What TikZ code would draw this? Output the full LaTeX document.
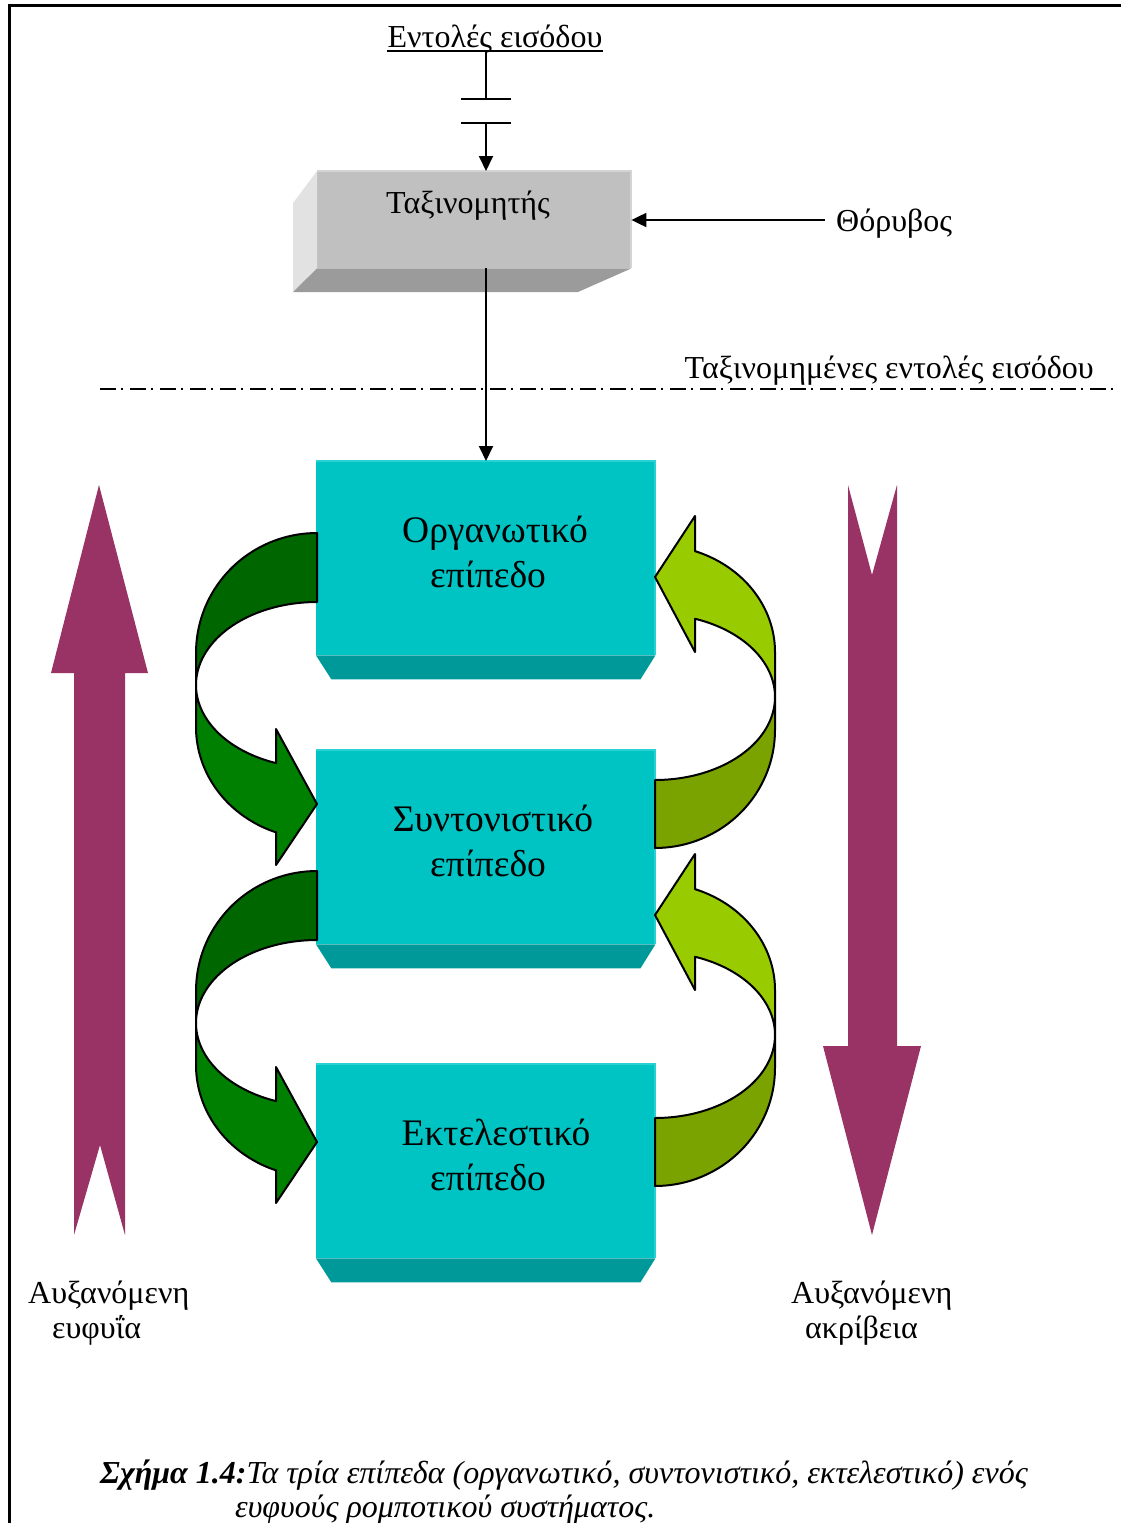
\documentclass[tikz,border=0pt]{standalone}
\usepackage{fontspec}
\setmainfont{Liberation Serif}
\usetikzlibrary{arrows.meta}

\definecolor{tealface}{RGB}{0,196,196}
\definecolor{tealhi}{RGB}{40,210,210}
\definecolor{tealbase}{RGB}{0,153,153}
\definecolor{grayface}{RGB}{192,192,192}
\definecolor{grayhi}{RGB}{212,212,212}
\definecolor{grayside}{RGB}{226,226,226}
\definecolor{graybase}{RGB}{155,155,155}
\definecolor{plum}{RGB}{153,51,102}
\definecolor{greenfront}{RGB}{0,128,0}
\definecolor{greenback}{RGB}{0,102,0}
\definecolor{limefront}{RGB}{153,204,0}
\definecolor{limeback}{RGB}{122,163,0}

\tikzset{
  wire/.style={line width=2pt},
  conn/.style={line width=2pt, -{Triangle[length=15pt,width=14pt]}},
  band/.style={draw=black, line width=2pt, line join=round},
  levelbox/.style={fill=tealface, minimum width=339pt, minimum height=194pt,
    inner sep=0pt, anchor=north west},
  sorterbox/.style={fill=grayface, minimum width=314pt, minimum height=97pt,
    inner sep=0pt, anchor=north west},
  lbl/.style={font=\fontsize{32}{38}\selectfont, inner sep=0pt},
  biglbl/.style={font=\fontsize{37.5}{45}\selectfont, inner sep=0pt, anchor=base},
  caption/.style={font=\fontsize{32}{37}\selectfont\itshape, inner sep=0pt, anchor=base west}
}

\begin{document}
\begin{tikzpicture}[x=1pt, y=-1pt]
\useasboundingbox (0,0) rectangle (1121,1523);

% page frame
\draw[line width=3pt] (9,1523) -- (9,5) -- (1121,5);

% input commands and the coupling symbol
\node[lbl, anchor=base] (cmd) at (495,47) {Εντολές εισόδου};
\draw[line width=1.8pt] ([yshift=-4pt]cmd.base west) -- ([yshift=-4pt]cmd.base east);
\coordinate (top) at (486,51);
\coordinate (p1) at (486,99);
\coordinate (p2) at (486,123);
\draw[wire] (top) -- (p1);
\draw[wire] (461,99) -- (511,99);
\draw[wire] (461,123) -- (511,123);

% sorter block with its side faces
\node[sorterbox] (sorter) at (317,171) {};
\fill[grayside] (sorter.north west) -- (293,203) -- (293,292) -- (sorter.south west) -- cycle;
\fill[graybase] (sorter.south west) -- (293,292) -- (578,292) -- (sorter.south east) -- cycle;
\draw[line width=2pt, grayhi] (sorter.south east) -- (sorter.north east) -- (sorter.north west);
\node[lbl, anchor=base] (sortlbl) at (468,213) {Ταξινομητής};
\draw[conn] (p2) -- (p2 |- sorter.north);

% noise input
\node[lbl, anchor=base west] (noise) at (836,231) {Θόρυβος};
\coordinate (nz) at (825,220);
\draw[conn] (nz) -- (nz -| sorter.east);

% separation line
\coordinate (dl) at (100,389);
\coordinate (dr) at (1115,389);
\draw[line width=2pt, dash pattern=on 16pt off 5pt on 2pt off 7pt] (dl) -- (dr);
\node[lbl, anchor=base east] (sorted) at (1094,378) {Ταξινομημένες εντολές εισόδου};

% the three levels
\node[levelbox] (org) at (316,461) {};
\node[levelbox] (coord) at (316,750) {};
\node[levelbox] (exec) at (316,1064) {};
\foreach \lv in {org,coord,exec}{
  \fill[tealbase] (\lv.south west) -- (\lv.south east) -- ++(-15,24) -- ++(-309,0) -- cycle;
  \draw[line width=2pt, tealhi] (\lv.south east) -- (\lv.north east) -- (\lv.north west);
}
\draw[conn] (p2 |- sorter.south) -- (p2 |- org.north);

\node[biglbl] (orgA) at (495,542) {Οργανωτικό};
\node[biglbl] (orgB) at (488,587) {επίπεδο};
\node[biglbl] (coordA) at (493,831) {Συντονιστικό};
\node[biglbl] (coordB) at (488,876) {επίπεδο};
\node[biglbl] (execA) at (496,1145) {Εκτελεστικό};
\node[biglbl] (execB) at (488,1190) {επίπεδο};

% curved arrows between neighbouring levels
\foreach \dy in {0,338}{
  \begin{scope}[shift={(0,\dy)}]
    % downward arrow on the left
    \filldraw[band, fill=greenback] (317,533)
      -- plot[domain=270:180, samples=40] ({317+121*cos(\x)},{653+120*sin(\x)})
      -- (196,685)
      -- plot[domain=180:270, samples=40] ({317+121*cos(\x)},{685+83*sin(\x)})
      -- cycle;
    \filldraw[band, fill=greenfront] (196,685)
      -- plot[domain=180:109.8, samples=40] ({317+121*cos(\x)},{685+83*sin(\x)})
      -- (276,729) -- (317,804) -- (276,865) -- (276,832)
      -- plot[domain=109.8:180, samples=40] ({317+121*cos(\x)},{727+112*sin(\x)})
      -- cycle;
    % upward arrow on the right
    \filldraw[band, fill=limeback] (655,780)
      -- plot[domain=90:0, samples=40] ({655+120*cos(\x)},{697+83*sin(\x)})
      -- (775,730)
      -- plot[domain=0:90, samples=40] ({655+120*cos(\x)},{730+118*sin(\x)})
      -- cycle;
    \filldraw[band, fill=limefront] (695,516) -- (655,577) -- (695,652) -- (695,619)
      -- plot[domain=289.5:360, samples=40] ({655+120*cos(\x)},{697+83*sin(\x)})
      -- (775,652)
      -- plot[domain=360:289.5, samples=40] ({655+120*cos(\x)},{652+107*sin(\x)})
      -- cycle;
  \end{scope}
}

% broad arrows: intelligence up, precision down
\fill[plum] (99,485) -- (148,673) -- (125,673) -- (125,1235) -- (100,1145)
  -- (74,1235) -- (74,673) -- (51,673) -- cycle;
\fill[plum] (848,485) -- (872,575) -- (897,485) -- (897,1046) -- (921,1046)
  -- (872,1235) -- (823,1046) -- (848,1046) -- cycle;

\node[lbl, anchor=base west] (intA) at (28,1303) {Αυξανόμενη};
\node[lbl, anchor=base west] (intB) at (52,1338) {ευφυΐα};
\node[lbl, anchor=base west] (precA) at (791,1303) {Αυξανόμενη};
\node[lbl, anchor=base west] (precB) at (805,1338) {ακρίβεια};

% caption
\node[caption] (capA) at (100,1483) {\textbf{Σχήμα 1.4:}Τα τρία επίπεδα (οργανωτικό, συντονιστικό, εκτελεστικό) ενός};
\node[caption] (capB) at (235,1517) {ευφυούς ρομποτικού συστήματος.};
\end{tikzpicture}
\end{document}
